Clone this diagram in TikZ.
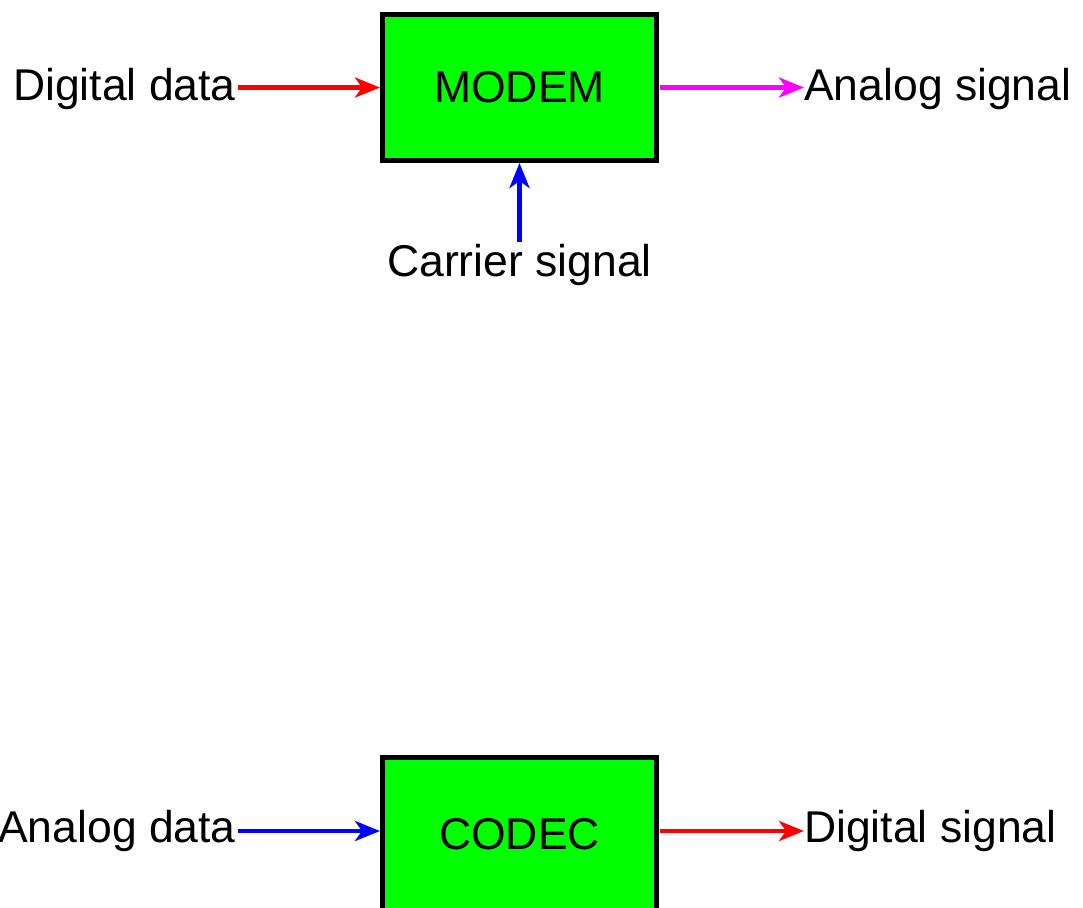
\documentclass[tikz,border=0pt]{standalone}
\usepackage{fontspec}
\setmainfont{Liberation Sans}
\usetikzlibrary{arrows.meta}
\definecolor{pmag}{RGB}{255,0,255}
\begin{document}
\begin{tikzpicture}[x=1pt,y=-1pt,
  blk/.style={draw=black,line width=5pt,fill=green,minimum width=274pt,minimum height=146pt,inner sep=0pt,font=\fontsize{44.5}{52}\selectfont},
  lbl/.style={inner sep=0pt,font=\fontsize{44.5}{52}\selectfont},
  sig/.style={line width=4.5pt,-{Stealth[length=25pt,width=20pt,inset=7pt]}}]
\useasboundingbox (0,0) rectangle (1083,907);
\clip (0,0) rectangle (1083,907);
\node[blk] (modem) at (519.5,87.5) {MODEM};
\node[blk,minimum height=160pt] (codec) at (519.5,837.5) {\raisebox{7pt}{CODEC}};
\node[lbl,anchor=east] (dd) at (236,89) {Digital data};
\node[lbl,anchor=west] (as) at (804,89) {Analog signal};
\node[lbl] (cs) at (519.5,265) {Carrier signal};
\node[lbl,anchor=east] (ad) at (236,831) {Analog data};
\node[lbl,anchor=west] (ds) at (804,831) {Digital signal};
\draw[sig,red] (dd.east |- modem.west) ++(2,0) -- (modem.west);
\draw[sig,pmag] (modem.east) ++(1,0) -- (as.west |- modem.east);
\draw[sig,blue] (cs.north) ++(0,-2) -- (modem.south);
\draw[sig,blue] (ad.east) ++(2,0) -- (ad.east -| codec.west);
\draw[sig,red] (ds.west -| codec.east) ++(1,0) -- (ds.west);
\end{tikzpicture}
\end{document}
